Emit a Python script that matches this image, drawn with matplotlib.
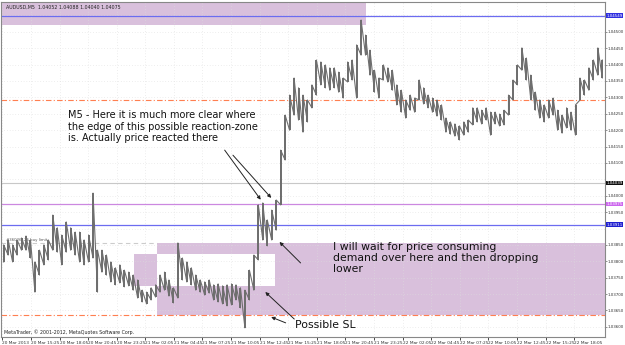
import numpy as np
import matplotlib
matplotlib.use("Agg")
import matplotlib.pyplot as plt
from matplotlib.patches import Rectangle

# AUDUSD M5, one bucket = 5 bars, high / low per bucket
highs = [1.03850, 1.03865, 1.03850, 1.03865, 1.03871, 1.03877, 1.03865, 1.03798, 1.03834, 1.03850,
         1.03865, 1.03941, 1.03902, 1.03880, 1.03920, 1.03902, 1.03889, 1.03889, 1.03865, 1.03880,
         1.04008, 1.03834, 1.03834, 1.03819, 1.03798, 1.03780, 1.03789, 1.03773, 1.03767, 1.03758,
         1.03743, 1.03712, 1.03706, 1.03719, 1.03728, 1.03758, 1.03767, 1.03743, 1.03719, 1.03856,
         1.03810, 1.03798, 1.03780, 1.03758, 1.03743, 1.03737, 1.03743, 1.03728, 1.03731, 1.03725,
         1.03728, 1.03731, 1.03728, 1.03719, 1.03712, 1.03773, 1.03819, 1.03972, 1.03978, 1.03926,
         1.03956, 1.03987, 1.04139, 1.04246, 1.04307, 1.04359, 1.04329, 1.04307, 1.04292, 1.04338,
         1.04414, 1.04408, 1.04399, 1.04390, 1.04390, 1.04377, 1.04359, 1.04408, 1.04414, 1.04460,
         1.04536, 1.04490, 1.04444, 1.04383, 1.04359, 1.04399, 1.04390, 1.04383, 1.04338, 1.04322,
         1.04292, 1.04307, 1.04298, 1.04353, 1.04329, 1.04307, 1.04298, 1.04292, 1.04277, 1.04237,
         1.04225, 1.04219, 1.04213, 1.04225, 1.04231, 1.04268, 1.04268, 1.04261, 1.04268, 1.04255,
         1.04255, 1.04249, 1.04261, 1.04307, 1.04353, 1.04399, 1.04451, 1.04420, 1.04368, 1.04316,
         1.04292, 1.04277, 1.04292, 1.04298, 1.04261, 1.04246, 1.04268, 1.04255, 1.04277, 1.04359,
         1.04353, 1.04390, 1.04414, 1.04451, 1.04414]
lows = [1.03798, 1.03819, 1.03798, 1.03819, 1.03834, 1.03834, 1.03810, 1.03706, 1.03758, 1.03789,
        1.03804, 1.03834, 1.03828, 1.03789, 1.03828, 1.03834, 1.03819, 1.03798, 1.03789, 1.03798,
        1.03810, 1.03706, 1.03767, 1.03758, 1.03737, 1.03728, 1.03734, 1.03722, 1.03725, 1.03712,
        1.03688, 1.03676, 1.03670, 1.03682, 1.03691, 1.03706, 1.03712, 1.03694, 1.03673, 1.03688,
        1.03743, 1.03737, 1.03728, 1.03712, 1.03706, 1.03697, 1.03703, 1.03682, 1.03676, 1.03670,
        1.03664, 1.03667, 1.03682, 1.03658, 1.03597, 1.03682, 1.03712, 1.03804, 1.03865, 1.03847,
        1.03865, 1.03895, 1.03972, 1.04109, 1.04200, 1.04246, 1.04231, 1.04194, 1.04225, 1.04268,
        1.04307, 1.04338, 1.04329, 1.04322, 1.04329, 1.04316, 1.04298, 1.04347, 1.04353, 1.04298,
        1.04429, 1.04429, 1.04368, 1.04316, 1.04298, 1.04353, 1.04347, 1.04322, 1.04277, 1.04255,
        1.04237, 1.04261, 1.04255, 1.04292, 1.04280, 1.04268, 1.04255, 1.04243, 1.04231, 1.04194,
        1.04188, 1.04182, 1.04170, 1.04185, 1.04194, 1.04216, 1.04225, 1.04219, 1.04231, 1.04185,
        1.04219, 1.04213, 1.04216, 1.04246, 1.04292, 1.04338, 1.04383, 1.04353, 1.04292, 1.04261,
        1.04237, 1.04225, 1.04237, 1.04246, 1.04200, 1.04191, 1.04207, 1.04200, 1.04185, 1.04292,
        1.04307, 1.04322, 1.04353, 1.04368, 1.04359]
BUCKET = 5
N_BARS = 676

time_labels = ["20 Mar 2013", "20 Mar 15:25", "20 Mar 18:05", "20 Mar 20:45", "20 Mar 23:25",
               "21 Mar 02:05", "21 Mar 04:45", "21 Mar 07:25", "21 Mar 10:05", "21 Mar 12:45",
               "21 Mar 15:25", "21 Mar 18:05", "21 Mar 20:45", "21 Mar 23:25", "22 Mar 02:05",
               "22 Mar 04:45", "22 Mar 07:25", "22 Mar 10:05", "22 Mar 12:45", "22 Mar 15:25",
               "22 Mar 18:05"]
price_ticks = [round(1.0360 + 0.0005 * k, 4) for k in range(20)]

# levels drawn on the chart
lvl_blue_top = 1.04549
lvl_orange_hi = 1.04292
lvl_bid = 1.04039
lvl_purple = 1.03975
lvl_blue_low = 1.03911
lvl_buy_limit = 1.03856
lvl_orange_lo = 1.03637

# zones: (bar_from, bar_to, price_low, price_high)
zone_top = (0, 408, 1.04521, 1.04620)
zone_demand = (174.5, N_BARS, lvl_orange_lo, lvl_buy_limit)
zone_inner = (148, 306, 1.03725, 1.03823)

PURPLE = "#d9c0dc"
SMALL = 2.9

fig = plt.figure(figsize=(6.25, 3.45), dpi=100)
ax = fig.add_axes([1 / 625, 8 / 345, 604 / 625, 335 / 345])
ax.set_xlim(-0.5, N_BARS - 0.5)
ax.set_ylim(1.03569, 1.04591)


def zone(z, color):
    ax.add_patch(Rectangle((z[0], z[2]), z[1] - z[0], z[3] - z[2],
                           facecolor=color, edgecolor="none", zorder=0))


zone(zone_top, PURPLE)
zone(zone_demand, PURPLE)
zone(zone_inner, PURPLE)
# MT4 draws overlapping rectangles xor-ed -> white overlap
ov = (max(zone_demand[0], zone_inner[0]), min(zone_demand[1], zone_inner[1]),
      max(zone_demand[2], zone_inner[2]), min(zone_demand[3], zone_inner[3]))
zone(ov, "white")

# grid
for p in price_ticks:
    ax.axhline(p, color="#dddddd", lw=0.5, ls=(0, (1, 3)), zorder=0.5)
tick_bars = [1 + 32 * k for k in range(len(time_labels))]
for b in tick_bars:
    ax.axvline(b, color="#dddddd", lw=0.5, ls=(0, (1, 3)), zorder=0.5)

# horizontal lines
ax.axhline(lvl_blue_top, color="#6c6cf0", lw=0.9, zorder=1)
ax.axhline(lvl_orange_hi, color="#ff7f50", lw=0.8, ls=(0, (5, 2, 1, 2)), zorder=1)
ax.axhline(lvl_bid, color="#c8c8c8", lw=0.8, zorder=1)
ax.axhline(lvl_purple, color="#cc88e0", lw=0.9, zorder=1)
ax.axhline(lvl_blue_low, color="#6c6cf0", lw=0.9, zorder=1)
ax.axhline(lvl_orange_lo, color="#ff7f50", lw=0.8, ls=(0, (5, 2, 1, 2)), zorder=1)
ax.plot([0, 174.5], [lvl_buy_limit, lvl_buy_limit], color="#cccccc", lw=0.8,
        ls=(0, (4, 3)), zorder=1)
ax.text(5, lvl_buy_limit + 0.00002, "#36026126 buy limit", fontsize=2.8,
        color="#555555", va="bottom")

# price bars
centers = np.arange(len(highs)) * BUCKET + BUCKET / 2
ax.vlines(centers, lows, highs, color="#6e6e6e", lw=1.4, zorder=3)
zx = np.repeat(centers, 2)
zy = np.ravel(np.column_stack([lows, highs]))
ax.plot(zx, zy, color="#6e6e6e", lw=0.8, zorder=3)

# axes styling
for s in ["top", "left", "bottom", "right"]:
    ax.spines[s].set_color("#888888")
    ax.spines[s].set_linewidth(0.8)

# highlighted price labels replace the regular ones nearby
marked = [(lvl_blue_top, "#3030e0"), (lvl_bid, "#101010"),
          (lvl_purple, "#cc66ee"), (lvl_blue_low, "#2020d0")]
shown = [p for p in price_ticks if all(abs(p - m) > 0.00018 for m, _ in marked)]
ax.yaxis.tick_right()
ax.set_yticks(shown)
ax.set_yticklabels([f"{p:.5f}" for p in shown], fontsize=SMALL, color="#333333")
ax.tick_params(axis="y", length=1.2, width=0.5, pad=0.6, colors="#666666")
for lbl in ax.get_yticklabels():
    lbl.set_color("#333333")
ax.set_xticks(tick_bars)
ax.set_xticklabels(time_labels, fontsize=3.1, color="#333333", ha="left")
ax.tick_params(axis="x", length=2, width=0.5, pad=1.2)

for p, fc in marked:
    ax.text(1.002, p, f"{p:.5f}", transform=ax.get_yaxis_transform(), fontsize=SMALL,
            color="white", va="center", ha="left",
            bbox=dict(boxstyle="square,pad=0.1", fc=fc, ec="none"), zorder=5)

# header and footer
ax.text(5, 1.04574, "AUDUSD,M5  1.04052 1.04088 1.04040 1.04075", fontsize=3.4,
        color="#222222", va="center")
ax.text(3, 1.03584, "MetaTrader, \u00a9 2001-2012, MetaQuotes Software Corp.",
        fontsize=3.4, color="#222222", va="center")

# annotations
ax.text(74, 1.04261, "M5 - Here it is much more clear where\n"
        "the edge of this possible reaction-zone\nis. Actually price reacted there",
        fontsize=7.0, va="top", ha="left", linespacing=1.2, color="#111111")
arrow = dict(arrowstyle="-|>", color="#222222", lw=0.7, mutation_scale=5)
ax.annotate("", xy=(292, 1.03981), xytext=(248, 1.04146), arrowprops=arrow)
ax.annotate("", xy=(304, 1.03987), xytext=(257, 1.04130), arrowprops=arrow)

ax.text(371, 1.03859, "I will wait for price consuming\n"
        "demand over here and then dropping\nlower",
        fontsize=7.8, va="top", ha="left", linespacing=1.1, color="#111111")
ax.annotate("", xy=(309, 1.03865), xytext=(337, 1.03789), arrowprops=arrow)

ax.text(329, 1.03606, "Possible SL", fontsize=7.8, va="center", ha="left", color="#111111")
ax.annotate("", xy=(293, 1.03712), xytext=(330, 1.03618), arrowprops=arrow)
ax.annotate("", xy=(299, 1.03633), xytext=(321, 1.03609), arrowprops=arrow)

fig.savefig("out.png", dpi=100)
